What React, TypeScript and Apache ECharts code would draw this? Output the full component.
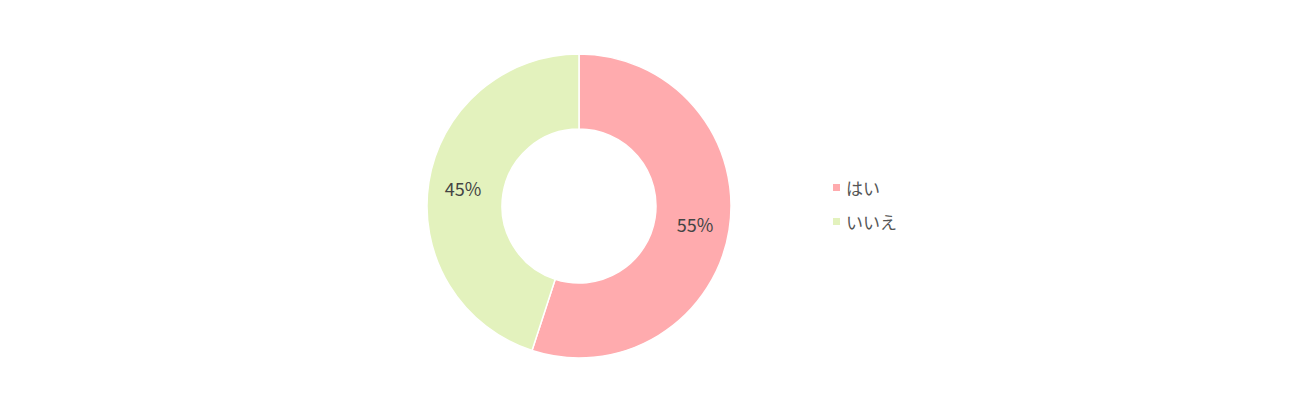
import React, { useEffect, useRef } from "react";
import * as echarts from "echarts";

const categories = ["はい", "いいえ"];
const values = [55, 45];
const colors = ["#FFABAE", "#E3F2BD"];

export default function App() {
  const ref = useRef<HTMLDivElement>(null);
  useEffect(() => {
    if (!ref.current) return;
    const chart = echarts.init(ref.current, null, { renderer: "svg" });
    chart.setOption({
      animation: false,
      color: colors,
      textStyle: { fontFamily: "'Noto Sans CJK JP', 'Noto Sans', sans-serif" },
      legend: {
        orient: "vertical",
        left: 831,
        top: 179,
        padding: 0,
        itemWidth: 9,
        itemHeight: 9,
        itemGap: 17,
        icon: "rect",
        textStyle: { fontSize: 17, color: "#555", fontFamily: "'Noto Sans CJK JP', sans-serif" },
        data: categories,
      },
      series: [
        {
          type: "pie",
          center: [579, 206],
          radius: [77, 152],
          startAngle: 90,
          clockwise: true,
          itemStyle: { borderColor: "#fff", borderWidth: 1.5 },
          label: {
            show: true,
            position: "inside",
            formatter: "{c}%",
            fontSize: 18,
            color: "#444",
            fontFamily: "'Noto Sans CJK JP', sans-serif",
          },
          labelLine: { show: false },
          emphasis: { disabled: true },
          data: categories.map((name, i) => ({ name, value: values[i] })),
        },
      ],
    });
    return () => chart.dispose();
  }, []);
  return (
    <div
      ref={ref}
      style={{ position: "fixed", left: 0, top: 0, width: 1299, height: 416, background: "#fff" }}
    />
  );
}
